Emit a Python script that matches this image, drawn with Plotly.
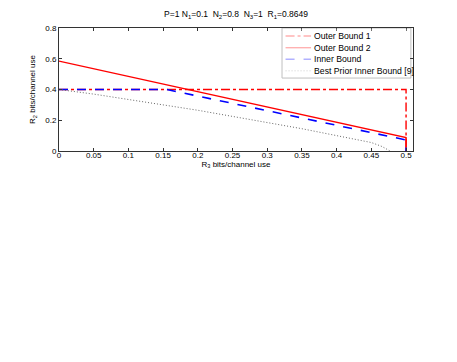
import plotly.graph_objects as go

# R3 / R2 values
ob1_x = [0, 0.5, 0.5]
ob1_y = [0.4, 0.4, 0]

ob2_x = [0, 0.5, 0.5]
ob2_y = [0.585, 0.088, 0]

ib_x = [0, 0.155, 0.5, 0.5]
ib_y = [0.4, 0.4, 0.072, 0]

prior_x = [0, 0.05, 0.1, 0.15, 0.2, 0.25, 0.3, 0.35, 0.4, 0.45, 0.465, 0.477]
prior_y = [0.4, 0.37, 0.335, 0.30, 0.265, 0.225, 0.185, 0.145, 0.10, 0.055, 0.03, 0]

names = ['Outer Bound 1', 'Outer Bound 2', 'Inner Bound', 'Best Prior Inner Bound [9]']
x_data = [ob1_x, ob2_x, ib_x, prior_x]
y_data = [ob1_y, ob2_y, ib_y, prior_y]
colors = ['#ff0000', '#ff0000', '#0000ff', '#666666']
dashes = ['dashdot', 'solid', 'dash', '1px,2px']
widths = [1.4, 1.4, 1.6, 1]

x_ticks = [0, 0.05, 0.1, 0.15, 0.2, 0.25, 0.3, 0.35, 0.4, 0.45, 0.5]
y_ticks = [0, 0.2, 0.4, 0.6, 0.8]

fig = go.Figure()
for i in range(4):
    fig.add_trace(go.Scatter(
        x=x_data[i], y=y_data[i], name=names[i], mode='lines', showlegend=False,
        line=dict(color=colors[i], dash=dashes[i], width=widths[i])))

font = dict(family='Liberation Sans, Arial, sans-serif', size=8, color='black')
leg_font = dict(family='Liberation Sans, Arial, sans-serif', size=8.7, color='black')

# hand-built MATLAB-style legend (plotly's own rows are too tall)
fig.add_shape(type='rect', xref='paper', yref='paper', x0=0.630, x1=0.994, y0=0.593, y1=1.0,
              line=dict(color='#333', width=1), fillcolor='white', layer='above')
leg_y = [0.935, 0.840, 0.746, 0.652]
for i in range(4):
    fig.add_shape(type='line', xref='paper', yref='paper', x0=0.640, x1=0.712,
                  y0=leg_y[i], y1=leg_y[i], layer='above',
                  line=dict(color=colors[i], dash=dashes[i], width=widths[i]))
    fig.add_annotation(text=names[i], xref='paper', yref='paper', x=0.714, y=leg_y[i],
                       xanchor='left', yanchor='middle', showarrow=False, font=leg_font)

axis_style = dict(
    showline=True, linecolor='#333', linewidth=1, mirror='ticks',
    ticks='inside', ticklen=3, tickcolor='#333', showgrid=False, zeroline=False,
    tickfont=font, automargin=False)

# page body adds 8px, so margins are pulled in by 8
fig.update_layout(
    width=457, height=362, template='simple_white', font=font,
    paper_bgcolor='white', plot_bgcolor='white',
    margin=dict(l=51, r=52, t=20, b=219, autoexpand=False),
    title=dict(text='P=1 N<sub>1</sub>=0.1  N<sub>2</sub>=0.8  N<sub>3</sub>=1  R<sub>1</sub>=0.8649',
               x=(51 + 177) / 457, xanchor='center', y=1 - 6 / 362, yanchor='middle',
               font=dict(family='Liberation Sans, Arial, sans-serif', size=8.5, color='black'),
               automargin=False),
    showlegend=False)

fig.update_xaxes(range=[0, 0.51], tickvals=x_ticks, ticktext=[f'{v:g}' for v in x_ticks],
                 ticklabelstandoff=-4,
                 title=dict(text='R<sub>3</sub> bits/channel use', font=font, standoff=2),
                 **axis_style)
fig.update_yaxes(range=[0, 0.8], tickvals=y_ticks, ticktext=[f'{v:g}' for v in y_ticks],
                 title=dict(text='R<sub>2</sub> bits/channel use', font=font, standoff=8),
                 **axis_style)

fig.write_html("out.html")
